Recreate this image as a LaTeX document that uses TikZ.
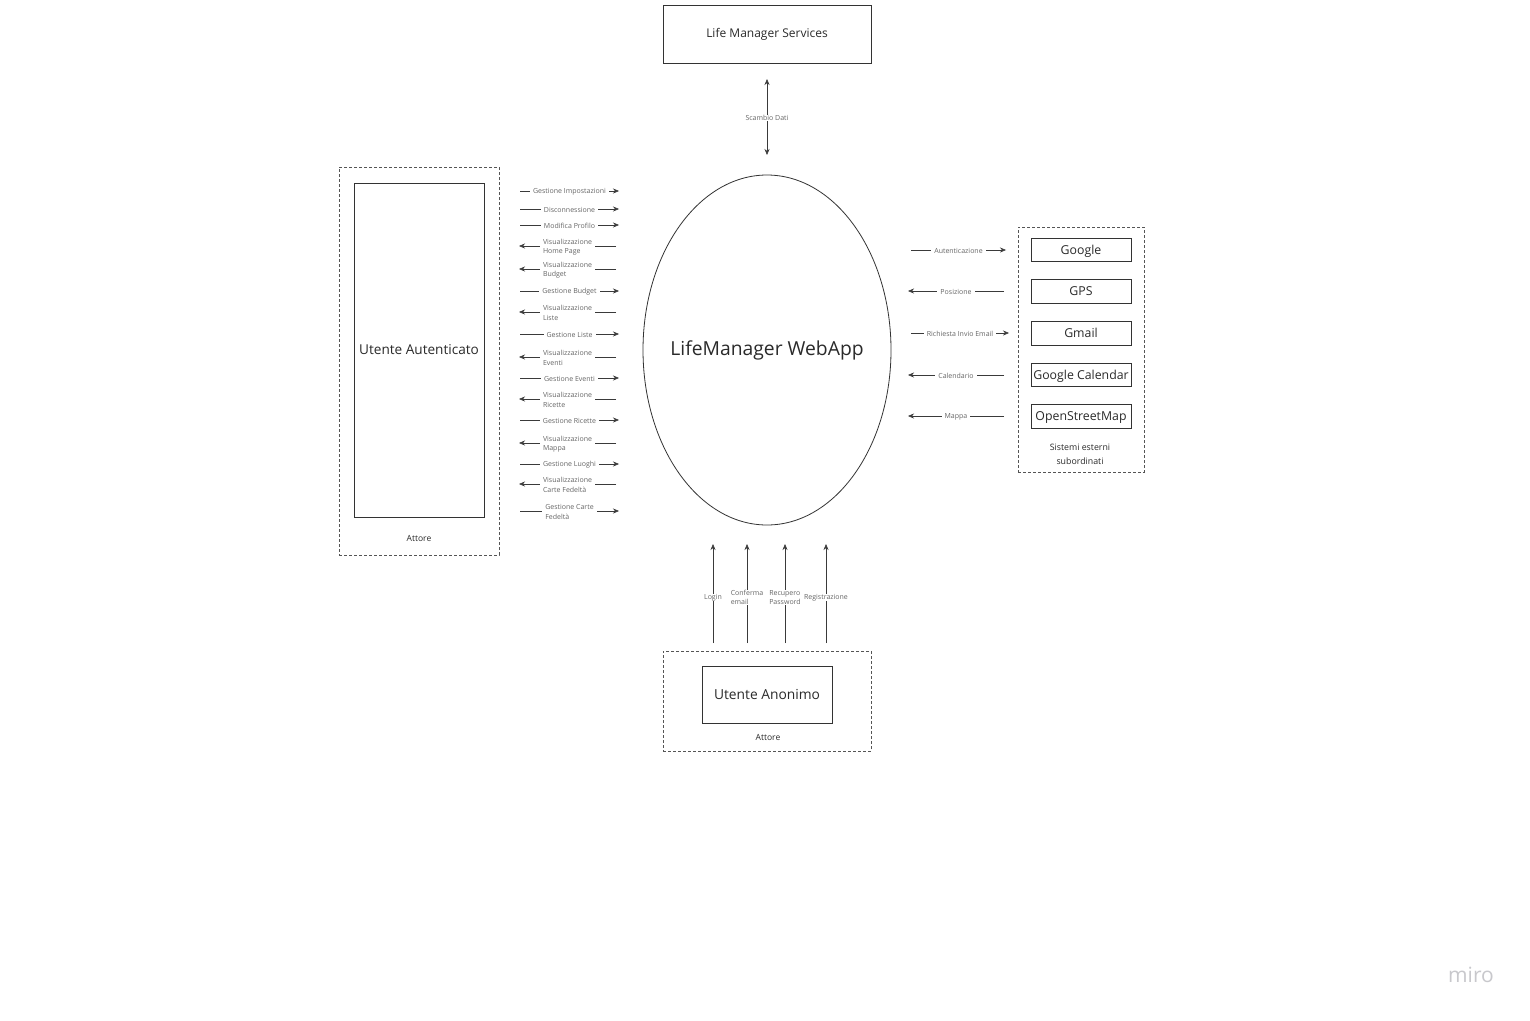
\documentclass[tikz,border=0pt]{standalone}
\usepackage{fontspec}
\setmainfont{Open Sans}
\usetikzlibrary{arrows.meta,shapes.geometric}

\definecolor{boxline}{HTML}{333333}
\definecolor{boxtext}{HTML}{2A2A2A}
\definecolor{dashline}{HTML}{555555}
\definecolor{flowline}{HTML}{3A3A3A}
\definecolor{labelgray}{HTML}{666666}
\definecolor{mirogray}{HTML}{C8C8CC}

\tikzset{
  box/.style={draw=boxline, text=boxtext, line width=0.8pt, inner sep=0pt},
  dashbox/.style={draw=dashline, line width=0.8pt, dash pattern=on 3pt off 2pt, inner sep=0pt},
  flow/.style={draw=flowline, line width=0.6pt, -{Stealth[length=6pt,width=5pt]}},
  flowlabel/.style={fill=white, text=labelgray, inner xsep=3pt, inner ysep=0.5pt, align=left,
    yshift=-1pt, font=\fontsize{7}{9.5}\selectfont},
  caption/.style={text=boxtext, align=center, font=\fontsize{8.5}{14}\selectfont},
}

\begin{document}
\begin{tikzpicture}[x=1pt,y=-1pt]
	\fill[white] (0,0) rectangle (1530,1020);
	\useasboundingbox (0,0) rectangle (1530,1020);
	% services on top
	\node[box, minimum width=208pt, minimum height=58pt, font=\fontsize{12}{14}\selectfont] (srv) at (767,34) {Life Manager Services};
	\node[ellipse, draw=boxline, line width=0.8pt, inner sep=0pt, minimum width=248pt, minimum height=350pt,
		label={[text=boxtext, font=\fontsize{19.3}{22}\selectfont]center:LifeManager WebApp}] (app) at (767,350) {};
	\coordinate (srv-in) at (767,79);
	\coordinate (app-in) at (767,155);
	\draw[flow, {Stealth[length=6pt,width=5pt]}-{Stealth[length=6pt,width=5pt]}] (srv-in) -- node[flowlabel] {Scambio Dati} (app-in);

	% utente autenticato
	\node[dashbox, minimum width=160pt, minimum height=388pt] (auth-frame) at (419,361) {};
	\node[box, minimum width=130pt, minimum height=334pt, font=\fontsize{13.6}{15}\selectfont] (auth) at (419,350) {Utente Autenticato};
	\node[caption] (auth-cap) at (419,538) {Attore};
	\foreach \y/\txt in {191/Gestione Impostazioni, 209/Disconnessione, 225/Modifica Profilo,
		291/Gestione Budget, 334/Gestione Liste, 378/Gestione Eventi, 420/Gestione Ricette,
		464/Gestione Luoghi, 511/{Gestione Carte\\Fedeltà}} {
		\coordinate (ua-a\y) at (520,\y);
		\coordinate (ua-b\y) at (619,\y);
		\draw[flow] (ua-a\y) -- node[flowlabel] {\txt} (ua-b\y);
	}
	\foreach \y/\txt in {246/{Visualizzazione\\Home Page}, 269/{Visualizzazione\\Budget},
		312/{Visualizzazione\\Liste}, 357/{Visualizzazione\\Eventi}, 399/{Visualizzazione\\Ricette},
		443/{Visualizzazione\\Mappa}, 484/{Visualizzazione\\Carte Fedeltà}} {
		\coordinate (ua-a\y) at (519,\y);
		\coordinate (ua-b\y) at (616,\y);
		\draw[flow] (ua-b\y) -- node[flowlabel] {\txt} (ua-a\y);
	}

	% sistemi esterni
	\node[dashbox, minimum width=126pt, minimum height=245pt] (ext-frame) at (1081,349.5) {};
	\foreach \y/\nm/\txt in {250/google/Google, 291.5/gps/GPS, 333.5/gmail/Gmail,
		375/gcal/Google Calendar, 416.5/osm/OpenStreetMap} {
		\node[box, minimum width=100pt, minimum height=23.5pt, text depth=0.5pt, font=\fontsize{12.3}{14}\selectfont] (\nm) at (1081,\y) {\txt};
	}
	\node[caption, font=\fontsize{8.8}{14}\selectfont] (ext-cap) at (1080,454) {Sistemi esterni\\subordinati};
	\foreach \y/\xe/\txt in {250/1006/Autenticazione, 333/1009/Richiesta Invio Email} {
		\coordinate (ex-a\y) at (911,\y);
		\coordinate (ex-b\y) at (\xe,\y);
		\draw[flow] (ex-a\y) -- node[flowlabel] {\txt} (ex-b\y);
	}
	\foreach \y/\txt in {291/Posizione, 375/Calendario, 416/Mappa} {
		\coordinate (ex-a\y) at (908,\y);
		\coordinate (ex-b\y) at (1004,\y);
		\draw[flow] (ex-b\y) -- node[flowlabel] {\txt} (ex-a\y);
	}

	% utente anonimo
	\node[dashbox, minimum width=208pt, minimum height=100pt] (anon-frame) at (767,701) {};
	\node[box, minimum width=130pt, minimum height=57pt, text depth=1pt, font=\fontsize{13.8}{15}\selectfont] (anon) at (767,694.5) {Utente Anonimo};
	\node[caption] (anon-cap) at (768,737) {Attore};
	\foreach \x/\txt in {713/Login, 747/{Conferma\\email}, 785/{Recupero\\Password}, 826/Registrazione} {
		\coordinate (an-a\x) at (\x,643);
		\coordinate (an-b\x) at (\x,544);
		\draw[flow] (an-a\x) -- node[flowlabel, inner xsep=1pt, yshift=-3pt] {\txt} (an-b\x);
	}

	\node[text=mirogray, font=\fontsize{21}{22}\selectfont] (miro) at (1471,975) {miro};
\end{tikzpicture}
\end{document}
